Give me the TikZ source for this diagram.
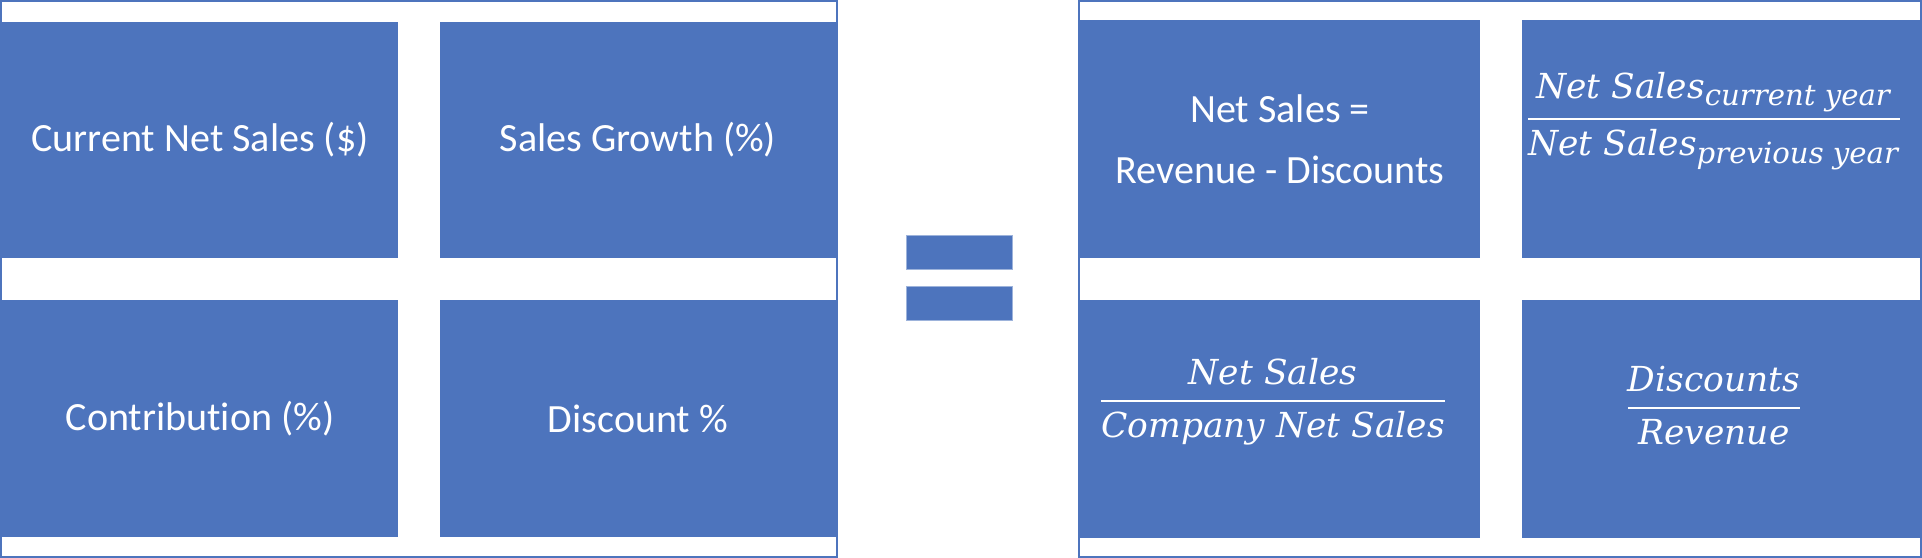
\RequirePackage{fix-cm}
\documentclass[tikz,border=0pt]{standalone}
\usepackage[no-math]{fontspec}
\newfontfamily\calibri[Ligatures=NoCommon]{Carlito}
\newfontfamily\cambria{DejaVu Serif}
\newcommand\fracterm[1]{\mbox{\cambria\itshape\fontsize{9.8}{12}\selectfont #1}}
\newcommand\fracsub[1]{\mbox{\cambria\itshape\fontsize{8.3}{10}\selectfont #1}}
\definecolor{cellblue}{RGB}{77,116,189}

\begin{document}
\begin{tikzpicture}[
    frame/.style={draw=cellblue, line width=0.57pt},
    cell/.style={fill=cellblue, inner sep=0pt, text=white, align=center, font=\calibri\fontsize{11.4}{17.4}\selectfont},
    frac/.style={anchor=base, text=white, inner sep=0pt, xshift=-0.07cm, font=\fontsize{11.1}{13}\selectfont},
    eqbar/.style={fill=cellblue, draw=cellblue!55, line width=0.3pt, minimum width=1.057cm, minimum height=0.34cm, inner sep=0pt}
  ]
  \useasboundingbox (0,0) rectangle (19.22,5.58);

  % Quadro esquerdo
  \draw[frame] (0.01,0.01) rectangle (8.37,5.57);
  \node[cell, minimum width=3.96cm, minimum height=2.36cm] (cns) at (2.00,4.18) {Current Net Sales (\$)};
  \node[cell, minimum width=3.96cm, minimum height=2.36cm] (sg) at (6.38,4.18) {Sales Growth (\%)};
  \node[cell, minimum width=3.96cm, minimum height=2.37cm] (con) at (2.00,1.39) {Contribution (\%)};
  \node[cell, minimum width=3.96cm, minimum height=2.37cm] (dis) at (6.38,1.39) {Discount \%};

  % Sinal de igual
  \node[eqbar] (eqtop) at (9.598,3.057) {};
  \node[eqbar] (eqbot) at (9.598,2.547) {};

  % Quadro direito
  \draw[frame] (10.79,0.01) rectangle (19.21,5.57);
  \node[cell, minimum width=4.00cm, minimum height=2.38cm] (ns) at (12.80,4.19) {Net Sales =\\Revenue - Discounts};
  \node[cell, minimum width=3.98cm, minimum height=2.38cm] (gr) at (17.21,4.19) {};
  \node[cell, minimum width=4.00cm, minimum height=2.38cm] (ct) at (12.80,1.39) {};
  \node[cell, minimum width=3.98cm, minimum height=2.38cm] (dp) at (17.21,1.39) {};

  % Formulas
  \node[frac, yshift=0.10cm] (fgr) at (gr.center) {$\displaystyle{\fracterm{Net Sales}_{\fracsub{current year}} \above 0.6pt \fracterm{Net Sales}_{\fracsub{previous year}}}$};
  \node[frac, yshift=0.083cm] (fct) at (ct.center) {$\displaystyle{\fracterm{Net Sales} \above 0.6pt \fracterm{Company Net Sales}}$};
  \node[frac, yshift=0.013cm] (fdp) at (dp.center) {$\displaystyle{\fracterm{Discounts} \above 0.6pt \fracterm{Revenue}}$};
\end{tikzpicture}
\end{document}
